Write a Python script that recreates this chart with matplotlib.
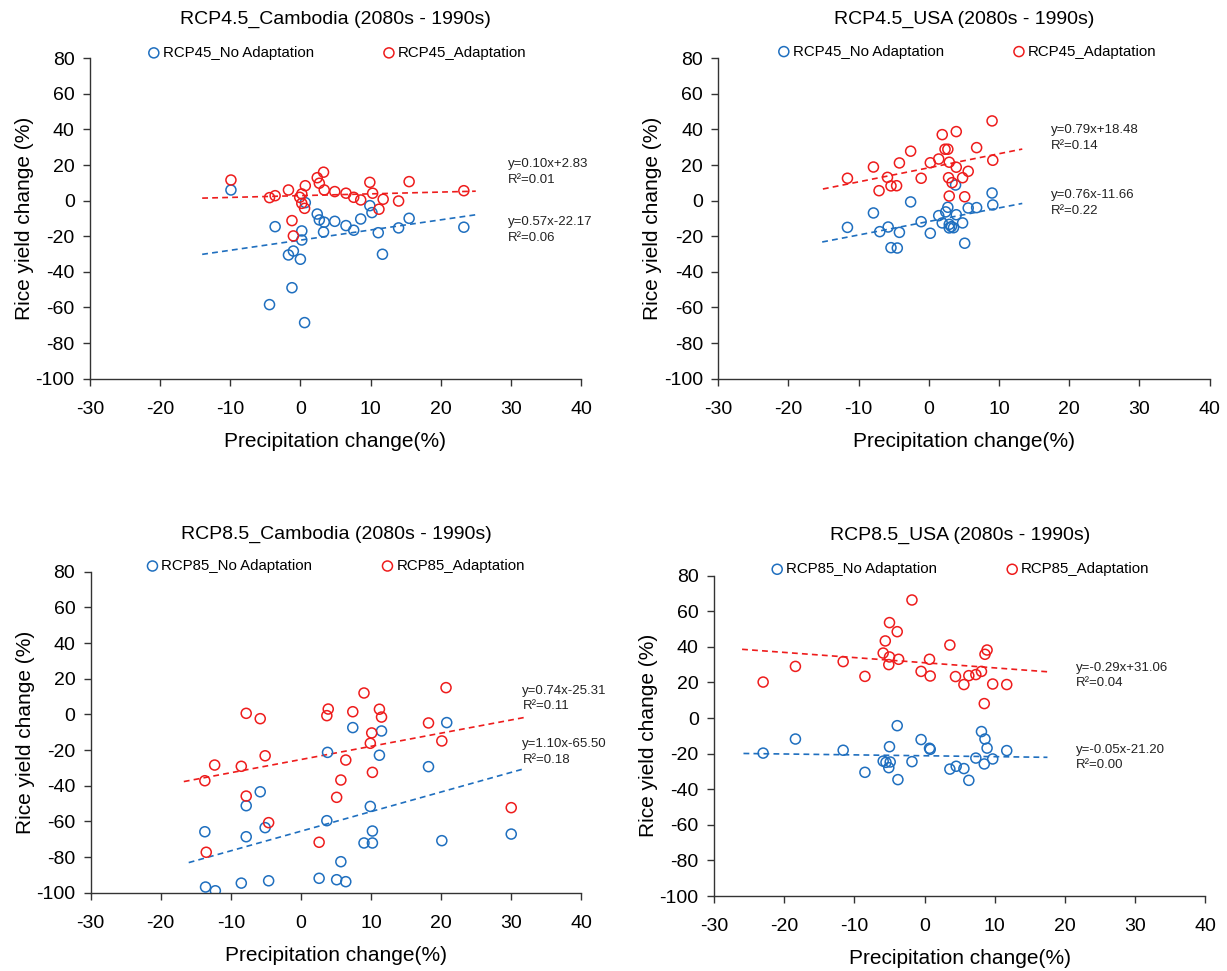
import numpy as np
import matplotlib
matplotlib.use('Agg')
import matplotlib.pyplot as plt

plt.rcParams['font.family'] = ['Liberation Sans', 'DejaVu Sans']
plt.rcParams['axes.unicode_minus'] = False

# RCP4.5 Cambodia
kh45_na_x = [-9.9, -3.6, -1.7, -1.0, 0.0, 0.2, 0.2, 0.7, -1.2, -4.4, 0.6, 2.4, 2.7,
             3.4, 3.3, 4.9, 6.5, 7.6, 8.6, 9.9, 10.2, 11.1, 11.7, 14.0, 15.5, 23.3]
kh45_na_y = [6.0, -14.6, -30.5, -28.3, -32.9, -17.0, -22.1, -1.1, -48.9, -58.4, -68.5, -7.5, -10.8,
             -12.1, -17.6, -11.6, -14.0, -16.6, -10.3, -2.8, -6.7, -18.0, -30.1, -15.3, -9.9, -14.9]
kh45_ad_x = [-9.9, -4.4, -3.6, -1.7, -1.2, -1.0, -0.1, 0.2, 0.2, 0.6, 0.7, 2.4, 2.7,
             3.3, 3.4, 4.9, 6.5, 7.6, 8.6, 9.9, 10.3, 11.2, 11.8, 14.0, 15.5, 23.3]
kh45_ad_y = [11.6, 1.7, 2.8, 6.0, -11.2, -19.8, 1.9, 3.8, -1.5, -4.3, 8.4, 12.9, 9.8,
             16.0, 6.0, 5.1, 4.2, 1.9, 0.4, 10.3, 4.2, -4.8, 0.8, -0.2, 10.7, 5.6]

# RCP4.5 USA
us45_na_x = [-11.6, -7.9, -7.0, -5.8, -5.4, -4.5, -4.2, -2.6, -1.1, 0.2, 1.4, 1.9, 2.4,
             2.7, 2.9, 2.9, 3.2, 3.5, 3.9, 3.8, 4.8, 5.1, 5.6, 6.8, 9.0, 9.1]
us45_na_y = [-15.0, -6.9, -17.4, -14.8, -26.4, -26.6, -17.8, -0.7, -11.8, -18.3, -8.4, -12.5, -6.3,
             -3.7, -13.3, -15.3, -14.6, -15.2, -7.9, 8.8, -12.5, -23.9, -4.1, -3.9, 4.3, -2.4]
us45_ad_x = [-11.6, -7.9, -7.1, -5.9, -5.4, -4.6, -4.2, -2.6, -1.1, 0.2, 1.4, 1.9, 2.3,
             2.7, 2.9, 2.8, 2.9, 3.3, 3.9, 3.9, 4.8, 5.1, 5.6, 6.8, 9.0, 9.1]
us45_ad_y = [12.6, 18.9, 5.6, 13.1, 8.3, 8.4, 21.2, 27.8, 12.6, 21.3, 23.4, 37.1, 28.9,
             28.9, 21.6, 12.9, 2.6, 10.1, 38.8, 18.8, 12.9, 2.2, 16.5, 29.8, 44.8, 22.7]

# RCP8.5 Cambodia
kh85_na_x = [-13.7, -13.6, -12.2, -7.8, -7.8, -8.5, -5.8, -5.1, -4.6, 2.6, 3.8, 3.7, 5.1,
             5.7, 6.4, 7.4, 9.0, 10.2, 10.2, 9.9, 11.2, 11.5, 18.2, 20.8, 20.1, 30.0]
kh85_na_y = [-65.8, -96.8, -98.9, -51.2, -68.6, -94.6, -43.4, -63.5, -93.3, -91.9, -21.3, -59.6, -92.7,
             -82.6, -93.8, -7.4, -72.1, -72.1, -65.4, -51.6, -22.9, -9.3, -29.3, -4.6, -70.8, -67.1]
kh85_ad_x = [-13.7, -12.3, -13.5, -7.8, -5.8, -8.5, -5.1, -7.8, -4.6, 2.6, 3.9, 3.7, 6.4,
             7.4, 5.7, 5.1, 9.0, 11.2, 11.5, 10.1, 9.9, 10.2, 18.2, 20.1, 20.7, 30.0]
kh85_ad_y = [-37.2, -28.4, -77.3, 0.6, -2.4, -29.1, -23.2, -45.8, -60.7, -71.7, 3.0, -0.7, -25.6,
             1.5, -36.8, -46.5, 12.0, 2.9, -1.5, -10.4, -16.2, -32.5, -4.8, -14.9, 15.0, -52.3]

# RCP8.5 USA
us85_na_x = [-23.0, -18.4, -11.6, -8.5, -5.9, -5.5, -5.0, -5.1, -4.9, -3.9, -3.8, -1.8, -0.5,
             0.7, 0.8, 3.6, 4.5, 5.6, 6.3, 7.3, 8.1, 8.6, 8.9, 8.5, 9.7, 11.7]
us85_na_y = [-19.7, -11.8, -18.1, -30.5, -24.2, -24.9, -16.1, -27.9, -24.7, -4.3, -34.6, -24.5, -12.1,
             -17.0, -17.6, -28.7, -27.1, -28.4, -35.0, -22.5, -7.6, -11.8, -16.9, -25.8, -23.0, -18.3]
us85_ad_x = [-23.0, -18.4, -11.6, -8.5, -5.9, -5.6, -5.0, -5.0, -5.1, -3.9, -3.7, -1.8, -0.5,
             0.7, 0.8, 3.6, 4.4, 5.6, 6.3, 7.3, 8.1, 8.6, 8.9, 8.5, 9.7, 11.7]
us85_ad_y = [20.2, 29.0, 31.7, 23.4, 36.5, 43.3, 53.6, 34.3, 30.0, 48.5, 33.0, 66.3, 26.2,
             33.0, 23.6, 41.0, 23.3, 18.8, 23.8, 24.4, 26.2, 35.8, 38.2, 8.1, 19.1, 18.8]

# trend line coefficients (slope, intercept) and labels as printed on the chart
fits = {
    'kh45': [(0.57, -22.17, 'y=0.57x-22.17', 'R\u00b2=0.06'), (0.10, 2.83, 'y=0.10x+2.83', 'R\u00b2=0.01')],
    'us45': [(0.76, -11.66, 'y=0.76x-11.66', 'R\u00b2=0.22'), (0.79, 18.48, 'y=0.79x+18.48', 'R\u00b2=0.14')],
    'kh85': [(1.10, -65.50, 'y=1.10x-65.50', 'R\u00b2=0.18'), (0.74, -25.31, 'y=0.74x-25.31', 'R\u00b2=0.11')],
    'us85': [(-0.05, -21.20, 'y=-0.05x-21.20', 'R\u00b2=0.00'), (-0.29, 31.06, 'y=-0.29x+31.06', 'R\u00b2=0.04')],
}

BLUE = '#1f6fbf'
RED = '#ee1c1c'

fig = plt.figure(figsize=(12.27, 9.71), dpi=100)


def draw_panel(rect, key, title, tag, na_x, na_y, ad_x, ad_y,
               line_x, eq_pos, title_y, leg_pos):
    ax = fig.add_axes(rect)
    h1 = ax.scatter(na_x, na_y, s=52, facecolors='none', edgecolors=BLUE, linewidths=1.1,
                    label=f'{tag}_No Adaptation', zorder=3)
    h2 = ax.scatter(ad_x, ad_y, s=52, facecolors='none', edgecolors=RED, linewidths=1.1,
                    label=f'{tag}_Adaptation', zorder=3)
    for (slope, icpt, eq, r2), col, lx, ey in zip(fits[key], [BLUE, RED], line_x, eq_pos[1]):
        xs = np.array(lx)
        ax.plot(xs, slope * xs + icpt, ls=(0, (3.5, 2.5)), color=col, lw=1.2, zorder=2)
        ax.text(eq_pos[0], ey, eq + '\n' + r2, fontsize=9.5, va='center', ha='left',
                linespacing=1.35, color='#222222')
    ax.set_xlim(-30, 40)
    ax.set_ylim(-100, 80)
    ax.set_xticks(range(-30, 41, 10))
    ax.set_yticks(range(-100, 81, 20))
    for s in ['top', 'right']:
        ax.spines[s].set_visible(False)
    for s in ['left', 'bottom']:
        ax.spines[s].set_color('#333333')
        ax.spines[s].set_linewidth(1.0)
    ax.tick_params(direction='out', length=5, width=1.0, color='#333333', labelsize=14)
    ax.tick_params(axis='x', pad=11)
    ax.tick_params(axis='y', pad=6)
    ax.set_xlabel('Precipitation change(%)', fontsize=15, labelpad=10)
    ax.set_ylabel('Rice yield change (%)', fontsize=15, labelpad=1)
    ax.text(0.5, title_y, title, transform=ax.transAxes, fontsize=14,
            ha='center', va='center')
    ax.legend(handles=[h1, h2], loc='center', bbox_to_anchor=leg_pos, ncol=2, frameon=False,
              fontsize=10.8, handletextpad=0.1, handlelength=1.0, columnspacing=4.5,
              borderpad=0, borderaxespad=0)
    return ax


draw_panel([0.0733, 0.6100, 0.4002, 0.3300], 'kh45', 'RCP4.5_Cambodia (2080s - 1990s)', 'RCP45',
           kh45_na_x, kh45_na_y, kh45_ad_x, kh45_ad_y,
           [(-14, 25), (-14, 25)], (29.6, (-16.5, 16.1)), 1.12, (0.502, 1.017))
draw_panel([0.5854, 0.6100, 0.4005, 0.3300], 'us45', 'RCP4.5_USA (2080s - 1990s)', 'RCP45',
           us45_na_x, us45_na_y, us45_ad_x, us45_ad_y,
           [(-15.2, 13.3), (-15.1, 13.3)], (17.4, (-1.3, 35.2)), 1.12, (0.505, 1.021))
draw_panel([0.0738, 0.0806, 0.4000, 0.3306], 'kh85', 'RCP8.5_Cambodia (2080s - 1990s)', 'RCP85',
           kh85_na_x, kh85_na_y, kh85_ad_x, kh85_ad_y,
           [(-16.0, 31.8), (-16.7, 31.8)], (31.6, (-21.1, 9.0)), 1.117, (0.498, 1.018))
draw_panel([0.5819, 0.0772, 0.4005, 0.3300], 'us85', 'RCP8.5_USA (2080s - 1990s)', 'RCP85',
           us85_na_x, us85_na_y, us85_ad_x, us85_ad_y,
           [(-25.8, 17.5), (-26.0, 17.6)], (21.5, (-22.1, 23.8)), 1.124, (0.5, 1.02))

fig.savefig('out.png', dpi=100)
